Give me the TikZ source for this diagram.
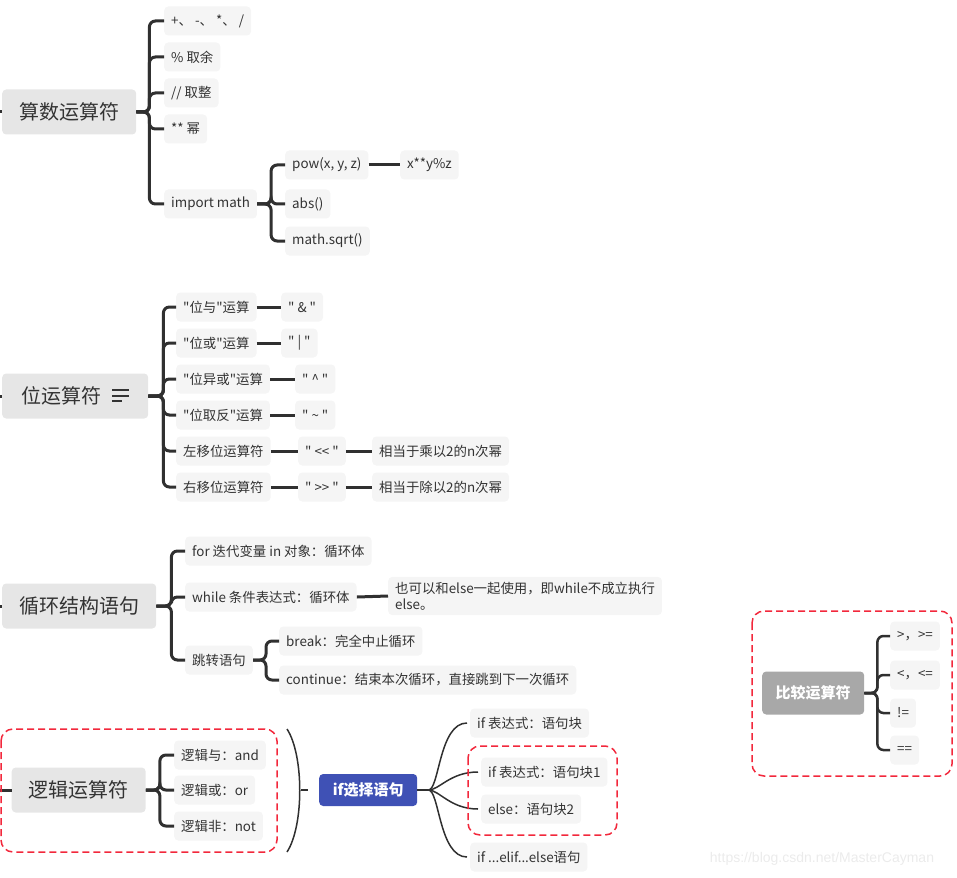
\documentclass[tikz,border=0pt]{standalone}
\usepackage{fontspec}
\setmainfont{Noto Sans CJK SC}[Ligatures=TeXOff]
\newfontfamily\wmfont{Liberation Sans}
\definecolor{txt}{HTML}{333333}
\definecolor{linecol}{HTML}{303030}
\definecolor{rootgray}{HTML}{E6E6E6}
\definecolor{leafgray}{HTML}{F5F5F5}
\definecolor{dashred}{HTML}{F2283C}
\definecolor{ifblue}{HTML}{3F51B5}
\definecolor{cmpgray}{HTML}{A8A8A8}
\begin{document}
\begin{tikzpicture}[x=1pt,y=-1pt,
    topic/.style={fill=rootgray, rounded corners=4pt, inner xsep=17pt, minimum height=45pt,
        font=\fontsize{20}{24}\selectfont, text=txt, anchor=west},
    leaf/.style={fill=leafgray, rounded corners=4pt, inner xsep=7pt, minimum height=29pt,
        font=\fontsize{13.4}{16}\selectfont, text=txt, anchor=west},
    link/.style={draw=linecol, line width=3pt, rounded corners=6pt},
    fine/.style={draw=linecol, line width=1.5pt},
    redbox/.style={draw=dashred, line width=1.5pt, dash pattern=on 7pt off 4pt, rounded corners=12pt}]
    \useasboundingbox (0,0) rectangle (957,877);

    % 算数运算符
    \node[topic] (arith) at (2,112) {算数运算符};
    \node[leaf] (add) at (164,21) {+、 -、 *、 /};
    \node[leaf] (mod) at (164,57) {\% 取余};
    \node[leaf] (div) at (164,93) {// 取整};
    \node[leaf] (powr) at (164,129) {** 幂};
    \node[leaf] (math) at (164,204) {import math};
    \node[leaf] (powf) at (285,165) {pow(x, y, z)};
    \node[leaf] (abs) at (285,204) {abs()};
    \node[leaf] (sqrt) at (285,241) {math.sqrt()};
    \node[leaf] (powres) at (400,165) {x**y\%z};
    \coordinate (s1) at (0,112);
    \draw[link] (s1) -- (arith.west);
    \foreach \c in {add,mod,div,powr,math}
        \draw[link] (arith.east) -- ++(13,0) |- (\c.west);
    \foreach \c in {powf,abs,sqrt}
        \draw[link] (math.east) -- ++(14,0) |- (\c.west);
    \draw[link] (powf.east) -- (powres.west);

    % 位运算符
    \node[topic, minimum width=146pt, align=left] (bit) at (2,396) {位运算符\hspace{28pt}};
    \draw[draw=txt, line width=1.2pt] (112,390) -- (129,390) (112,396) -- (129,396) (112,401) -- (122,401);
    \node[leaf] (band) at (176,307) {"位与"运算};
    \node[leaf] (bor) at (176,343) {"位或"运算};
    \node[leaf] (bxor) at (176,379) {"位异或"运算};
    \node[leaf] (bnot) at (176,415) {"位取反"运算};
    \node[leaf] (shl) at (176,451) {左移位运算符};
    \node[leaf] (shr) at (176,487) {右移位运算符};
    \node[leaf] (bandop) at (281,307) {" \& "};
    \node[leaf] (borop) at (281,343) {" | "};
    \node[leaf] (bxorop) at (295,379) {" \^{} "};
    \node[leaf] (bnotop) at (295,415) {" \textasciitilde{} "};
    \node[leaf] (shlop) at (298,451) {" << "};
    \node[leaf] (shrop) at (298,487) {" >> "};
    \node[leaf] (shlnote) at (372,451) {相当于乘以2的n次幂};
    \node[leaf] (shrnote) at (372,487) {相当于除以2的n次幂};
    \coordinate (s2) at (0,396);
    \draw[link] (s2) -- (bit.west);
    \foreach \c in {band,bor,bxor,bnot,shl,shr}
        \draw[link] (bit.east) -- ++(15,0) |- (\c.west);
    \draw[link] (band.east) -- (bandop.west);
    \draw[link] (bor.east) -- (borop.west);
    \draw[link] (bxor.east) -- (bxorop.west);
    \draw[link] (bnot.east) -- (bnotop.west);
    \draw[link] (shl.east) -- (shlop.west);
    \draw[link] (shr.east) -- (shrop.west);
    \draw[link] (shlop.east) -- (shlnote.west);
    \draw[link] (shrop.east) -- (shrnote.west);

    % 循环结构语句
    \node[topic] (loop) at (2,606) {循环结构语句};
    \node[leaf] (for) at (185,551) {for 迭代变量 in 对象：循环体};
    \node[leaf] (while) at (185,597) {while 条件表达式：循环体};
    \node[leaf, align=left, inner ysep=5pt] (whilenote) at (388,596) {也可以和else一起使用，即while不成立执行\\else。};
    \node[leaf] (jump) at (185,660) {跳转语句};
    \node[leaf] (break) at (279,641) {break：完全中止循环};
    \node[leaf] (cont) at (279,680) {continue：结束本次循环，直接跳到下一次循环};
    \coordinate (s3) at (0,606);
    \draw[link] (s3) -- (loop.west);
    \foreach \c in {for,while,jump}
        \draw[link] (loop.east) -- ++(15,0) |- (\c.west);
    \draw[link] (while.east) -- (whilenote.west);
    \foreach \c in {break,cont}
        \draw[link] (jump.east) -- ++(13,0) |- (\c.west);

    % 逻辑运算符
    \node[topic] (logic) at (11.5,790) {逻辑运算符};
    \node[leaf] (land) at (174,755) {逻辑与：and};
    \node[leaf] (lor) at (174,790) {逻辑或：or};
    \node[leaf] (lnot) at (174,826) {逻辑非：not};
    \coordinate (s4) at (0,790);
    \draw[link] (s4) -- (logic.west);
    \foreach \c in {land,lor,lnot}
        \draw[link] (logic.east) -- ++(14,0) |- (\c.west);
    \draw[redbox] (1,729) rectangle (277,852);
    \draw[fine] (287,729) .. controls (304,755) and (304,826) .. (287,852);
    \draw[fine] (301,790) -- (308,790);

    % if选择语句
    \node[fill=ifblue, rounded corners=4pt, text=white, font=\fontsize{15}{18}\selectfont\bfseries,
        minimum width=98pt, minimum height=32pt, anchor=west] (ifsel) at (319,790) {if选择语句};
    \node[leaf] (if1) at (470,723) {if 表达式：语句块};
    \node[leaf] (ifa) at (481,772) {if 表达式：语句块1};
    \node[leaf] (else2) at (481,809) {else：语句块2};
    \node[leaf] (elif) at (470,857) {if ...elif...else语句};
    \draw[fine] (ifsel.east) -- ++(11,0) coordinate (ifj);
    \foreach \c in {if1,ifa,else2,elif}
        \draw[fine] (ifj) .. controls +(11,0) and +(-28,0) .. ([xshift=-3pt]\c.west);
    \draw[redbox] (468,746) rectangle (617,835);

    % 比较运算符
    \node[fill=cmpgray, rounded corners=4pt, text=white, font=\fontsize{15}{18}\selectfont\bfseries,
        minimum width=102pt, minimum height=43pt, anchor=west] (cmp) at (762,693) {比较运算符};
    \node[leaf] (gt) at (890,636) {>，>=};
    \node[leaf] (lt) at (890,675) {<，<=};
    \node[leaf] (ne) at (890,713) {!=};
    \node[leaf] (eq) at (890,750) {==};
    \foreach \c in {gt,lt,ne,eq}
        \draw[link, line width=2.5pt] (cmp.east) -- ++(13,0) |- (\c.west);
    \draw[redbox] (752,611) rectangle (952,776);

    \node[font=\wmfont\fontsize{14}{16}\selectfont, text=black!8] (wm) at (822,859) {https://blog.csdn.net/MasterCayman};
\end{tikzpicture}
\end{document}
